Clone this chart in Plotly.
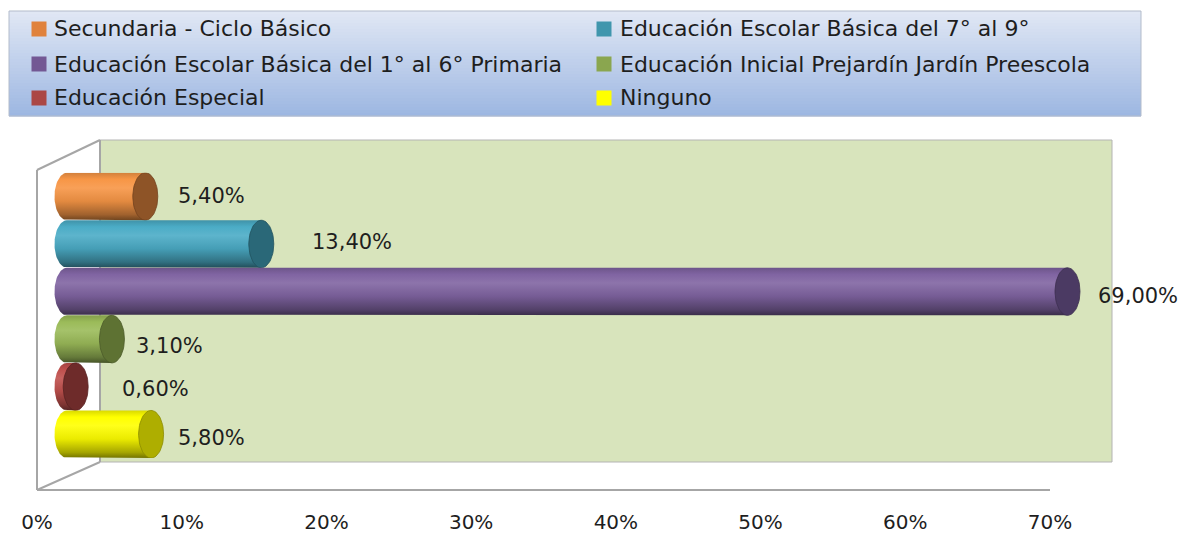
import numpy as np
import plotly.graph_objects as go

# ---------------- data ----------------
categories = [
    "Secundaria - Ciclo Básico",
    "Educación Escolar Básica del 7° al 9°",
    "Educación Escolar Básica del 1° al 6° Primaria",
    "Educación Inicial Prejardín Jardín Preescola",
    "Educación Especial",
    "Ninguno",
]
values = [5.4, 13.4, 69.0, 3.1, 0.6, 5.8]          # percent
tick_values = [0, 10, 20, 30, 40, 50, 60, 70]
tick_labels = ["0%", "10%", "20%", "30%", "40%", "50%", "60%", "70%"]

# ---------------- styles ----------------
body_colors = ["#f79646", "#4bacc6", "#8064a2", "#9bbb59", "#c0504d", "#ffff00"]
cap_colors = ["#8e5427", "#2a6878", "#4b3a63", "#5e7233", "#6e2b2a", "#aeae00"]
legend_colors = ["#e0823c", "#4096ad", "#735894", "#8aa64f", "#ab4745", "#ffff00"]
label_dx = [18, 36, 16, 10, 32, 12]     # px gap after the cap
label_dy = [0, 2, -4, -7, -2, -4]       # px vertical nudge
FONT = "DejaVu Sans"
W, H = 1181, 533
PX_PER_UNIT = 14.5
X0_PX = 67
XMIN = -2.0
RX = 12.5 / PX_PER_UNIT                  # cap half-width in data units
RY = 0.5


def px(x):
    return x / W


def py(y):
    return 1 - y / H


def shade(hexc, f):
    h = hexc.lstrip("#")
    r, g, b = [int(h[i:i + 2], 16) for i in (0, 2, 4)]
    if f >= 0:
        r, g, b = [c + (255 - c) * f for c in (r, g, b)]
    else:
        r, g, b = [c * (1 + f) for c in (r, g, b)]
    return "rgb(%d,%d,%d)" % (round(r), round(g), round(b))


fig = go.Figure()

n = len(categories)
ypos = [n - 1 - i for i in range(n)]   # first category on top

for i, (v, yc) in enumerate(zip(values, ypos)):
    base = body_colors[i]
    th = np.linspace(-np.pi / 2, -3 * np.pi / 2, 40)
    xs = [0, v, v, 0] + list(RX * np.cos(th))
    ys = [yc + RY, yc + RY, yc - RY, yc - RY] + list(yc + RY * np.sin(th))
    fig.add_trace(go.Scatter(
        x=xs, y=ys, mode="lines", fill="toself",
        line=dict(width=0, color=shade(base, -0.5)),
        fillgradient=dict(
            type="vertical", start=yc - RY, stop=yc + RY,
            colorscale=[
                [0.0, shade(base, -0.55)],
                [0.12, shade(base, -0.35)],
                [0.4, shade(base, -0.08)],
                [0.68, shade(base, 0.1)],
                [0.86, shade(base, 0.0)],
                [1.0, shade(base, -0.15)],
            ]),
        hoverinfo="skip", showlegend=False))
    t = np.linspace(0, 2 * np.pi, 60)
    fig.add_trace(go.Scatter(
        x=v + RX * np.cos(t), y=yc + RY * np.sin(t), mode="lines",
        fill="toself", fillcolor=cap_colors[i],
        line=dict(width=0.8, color=shade(cap_colors[i], -0.2)),
        hoverinfo="skip", showlegend=False))
    fig.add_annotation(
        x=v, y=yc, xref="x", yref="y", xanchor="left", yanchor="middle",
        xshift=12.5 + label_dx[i], yshift=label_dy[i],
        text=("%.2f%%" % v).replace(".", ","), showarrow=False,
        font=dict(family=FONT, size=21, color="#1e1e1e"))

fig.add_trace(go.Scatter(x=[0], y=[0], xaxis="x2", yaxis="y2", mode="markers",
                         marker=dict(opacity=0), hoverinfo="skip", showlegend=False))

shapes = []
top_c = np.array([225, 232, 245])
bot_c = np.array([157, 183, 226])
y_top, y_bot = 11, 116
nstrip = 35
for k in range(nstrip):
    f = (k + 0.5) / nstrip
    c = top_c + (bot_c - top_c) * f
    ya = y_top + (y_bot - y_top) * k / nstrip
    yb = y_top + (y_bot - y_top) * (k + 1) / nstrip + 0.6
    shapes.append(dict(type="rect", xref="paper", yref="paper",
                       x0=px(9), x1=px(1141), y0=py(ya), y1=py(yb),
                       line=dict(width=0), fillcolor="rgb(%d,%d,%d)" % tuple(c),
                       layer="below"))
shapes.append(dict(type="rect", xref="paper", yref="paper",
                   x0=px(9), x1=px(1141), y0=py(y_top), y1=py(y_bot),
                   line=dict(width=1, color="#b3bccb"), layer="below"))

shapes.append(dict(type="rect", xref="paper", yref="paper",
                   x0=px(100), x1=px(1112), y0=py(462), y1=py(140),
                   fillcolor="#d8e4bc", line=dict(width=1, color="#b4b4b4"),
                   layer="below"))
wall = "#a6a6a6"
for (xa, ya, xb, yb) in [(37, 170, 100, 140), (37, 170, 37, 490),
                         (37, 490, 100, 462), (37, 490, 1050, 490),
                         (100, 140, 100, 462)]:
    shapes.append(dict(type="line", xref="paper", yref="paper",
                       x0=px(xa), y0=py(ya), x1=px(xb), y1=py(yb),
                       line=dict(width=2, color=wall), layer="below"))

col_sq = [31.5, 596.5]
col_tx = [53, 619]
row_y = [29, 64, 98]
for i, name in enumerate(categories):
    c, r = i % 2, i // 2
    shapes.append(dict(type="rect", xref="paper", yref="paper",
                       x0=px(col_sq[c]), x1=px(col_sq[c] + 15),
                       y0=py(row_y[r] + 7.5), y1=py(row_y[r] - 7.5),
                       fillcolor=legend_colors[i], line=dict(width=0)))
    fig.add_annotation(x=px(col_tx[c]), y=py(row_y[r]), xref="paper", yref="paper",
                       xanchor="left", yanchor="middle", text=name,
                       showarrow=False, borderpad=0,
                       font=dict(family=FONT, size=22, color="#1e1e1e"))

fig.update_layout(
    width=W, height=H, autosize=False,
    margin=dict(l=0, r=0, t=0, b=0, pad=0, autoexpand=False),
    paper_bgcolor="white", plot_bgcolor="rgba(0,0,0,0)",
    showlegend=False, shapes=shapes, hovermode=False,
    xaxis=dict(domain=[px(X0_PX + XMIN * PX_PER_UNIT), px(X0_PX + 70 * PX_PER_UNIT)],
               range=[XMIN, 70], visible=False, fixedrange=True, automargin=False),
    yaxis=dict(domain=[py(458), py(172.7)], range=[-0.5, n - 0.5],
               visible=False, fixedrange=True, automargin=False),
    xaxis2=dict(domain=[px(37), px(1050)], range=[0, 70], anchor="y2",
                tickvals=tick_values, ticktext=tick_labels, automargin=False,
                showgrid=False, zeroline=False, showline=False, ticks="",
                ticklabelstandoff=18, fixedrange=True,
                tickfont=dict(family=FONT, size=20, color="#1e1e1e")),
    yaxis2=dict(domain=[py(490), py(140)], range=[0, 1], visible=False,
                anchor="x2", automargin=False, fixedrange=True),
)

fig.write_html(
    "out.html",
    config={"displayModeBar": False, "staticPlot": True},
    post_script="document.body.style.margin='0px';"
                "document.documentElement.style.overflow='hidden';"
                "document.body.style.overflow='hidden';",
)
